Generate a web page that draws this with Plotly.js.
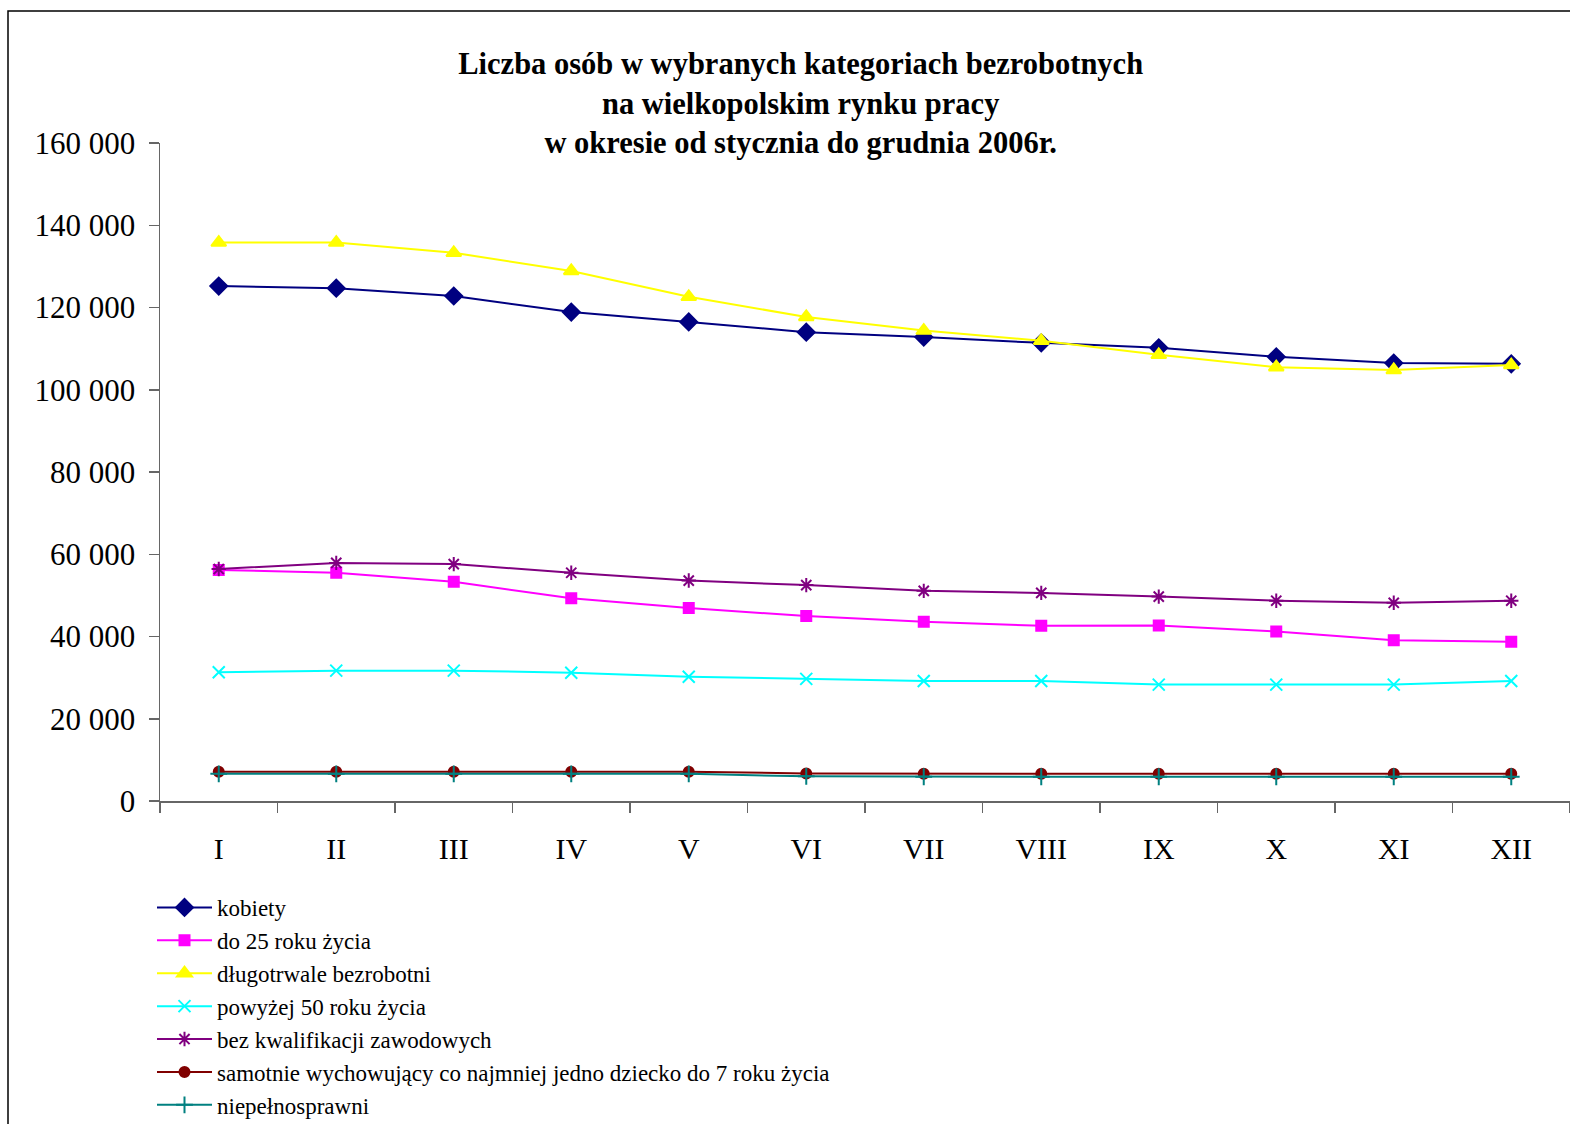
<!DOCTYPE html>
<html>
<head>
<meta charset="utf-8">
<script src="https://cdn.plot.ly/plotly-3.0.1.min.js"></script>
<style>html,body{margin:0;padding:0;background:#fff;}#chart{width:1570px;height:1124px;}</style>
</head>
<body>
<div id="chart"></div>
<script>
const months = ["I","II","III","IV","V","VI","VII","VIII","IX","X","XI","XII"];
const kobiety = [125200,124700,122800,118900,116500,114000,112800,111400,110200,108000,106500,106300];
const do25 = [56200,55500,53300,49300,46900,45000,43600,42600,42700,41200,39100,38700];
const dlugotrwale = [135800,135800,133300,128900,122600,117700,114400,111900,108500,105500,104800,106000];
const powyzej50 = [31300,31700,31700,31200,30200,29700,29200,29200,28300,28300,28300,29200];
const bezKwalifikacji = [56400,57900,57600,55500,53600,52500,51100,50600,49700,48700,48200,48700];
const samotnie = [7100,7100,7100,7100,7100,6700,6600,6600,6600,6600,6600,6600];
const niepelnosprawni = [6600,6600,6600,6600,6600,6000,5900,5900,5900,5900,5900,5900];

const names = ["kobiety","do 25 roku życia","długotrwale bezrobotni","powyżej 50 roku życia","bez kwalifikacji zawodowych","samotnie wychowujący co najmniej jedno dziecko do 7 roku życia","niepełnosprawni"];
const series = [kobiety, do25, dlugotrwale, powyzej50, bezKwalifikacji, samotnie, niepelnosprawni];
const colors = ["#000080","#FF00FF","#FFFF00","#00FFFF","#800080","#800000","#008080"];
const symbols = ["diamond","square","triangle-up","x-thin-open","asterisk-open","circle","cross-thin-open"];
const sizes = [13,10,13,12,12,10,12];

const traces = series.map((ys, i) => ({
  type: "scatter",
  mode: "lines+markers",
  x: months,
  y: ys,
  name: names[i],
  line: {color: colors[i], width: 2},
  marker: {symbol: symbols[i], size: sizes[i], color: colors[i], line: {color: colors[i], width: 2}}
}));

const font = "Liberation Serif, Times New Roman, serif";
const layout = {
  width: 1570, height: 1124,
  paper_bgcolor: "#fff", plot_bgcolor: "#fff",
  margin: {l: 160, r: 0, t: 143, b: 323, autoexpand: false},
  separators: ", ",
  font: {family: font, color: "#000"},
  title: {
    text: "<b>Liczba osób w wybranych kategoriach bezrobotnych<br>na wielkopolskim rynku pracy<br>w okresie od stycznia do grudnia 2006r.</b>",
    font: {family: font, size: 30.5, color: "#000"},
    xref: "container", x: 0.51, xanchor: "center",
    yref: "container", y: 0.934, yanchor: "top"
  },
  xaxis: {
    type: "category",
    range: [-0.5, 11.5],
    automargin: false,
    showgrid: false, zeroline: false,
    showline: true, linecolor: "#666", linewidth: 1.5,
    ticks: "outside", ticklen: 10, tickcolor: "#666", tickwidth: 1.5,
    tickson: "boundaries",
    tickangle: 0,
    tickfont: {family: font, size: 30, color: "#000"},
    ticklabelstandoff: 20
  },
  yaxis: {
    range: [0, 160000],
    dtick: 20000,
    tickformat: ",d",
    automargin: false,
    showgrid: false, zeroline: false,
    showline: true, linecolor: "#666", linewidth: 1.5,
    ticks: "outside", ticklen: 10, tickcolor: "#666", tickwidth: 1.5,
    tickfont: {family: font, size: 31, color: "#000"},
    ticklabelstandoff: 7
  },
  legend: {
    xref: "container", yref: "container",
    x: 152/1570, y: 1 - 886/1124, xanchor: "left", yanchor: "top",
    font: {family: font, size: 23, color: "#000"},
    bgcolor: "rgba(0,0,0,0)",
    itemwidth: 55,
    tracegroupgap: 0
  },
  showlegend: true,
  shapes: [{
    type: "rect", xref: "paper", yref: "paper",
    x0: (8-160)/1410, x1: 1.02, y0: (801-1130)/658, y1: (801-11)/658,
    line: {color: "#000", width: 1.5}, fillcolor: "rgba(0,0,0,0)", layer: "below"
  }]
};

Plotly.newPlot("chart", traces, layout, {displayModeBar: false, staticPlot: true});
</script>
</body>
</html>
